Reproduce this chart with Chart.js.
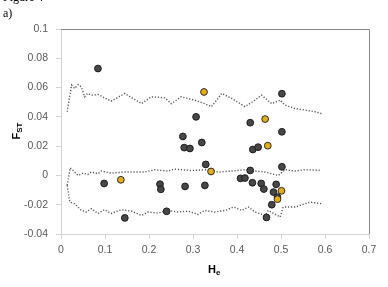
<!DOCTYPE html>
<html>
<head>
<meta charset="utf-8">
<script src="https://cdn.jsdelivr.net/npm/chart.js@4/dist/chart.umd.min.js"></script>
<style>
  html, body { margin: 0; padding: 0; background: #fff; }
  #wrap { position: relative; width: 388px; height: 287px; overflow: hidden; }
  canvas { position: absolute; left: 0; top: 0; }
  .lbl { position: absolute; white-space: nowrap; color: #000; }
  .fig { font-family: "Liberation Serif", serif; font-size: 12px; }
  .ax { font-family: "Liberation Sans", Arial, sans-serif; font-size: 11px; font-weight: bold; }
  .ax sub { font-size: 8px; vertical-align: -2px; }
</style>
</head>
<body>
<div id="wrap">
  <canvas id="c" width="388" height="287"></canvas>
  <div class="lbl fig" style="left:3px; top:-10px;">Figure 4</div>
  <div class="lbl fig" style="left:3px; top:6px;">a)</div>
  <div class="lbl ax" id="xt" style="left:208px; top:263px;">H<sub>e</sub></div>
  <div class="lbl ax" id="yt" style="left:9px; top:124px; transform: rotate(-90deg); transform-origin: center;">F<sub>ST</sub></div>
</div>
<script>
// Tick labels
const xTicks = [0, 0.1, 0.2, 0.3, 0.4, 0.5, 0.6, 0.7];
const yTicks = [-0.04, -0.02, 0, 0.02, 0.04, 0.06, 0.08, 0.1];

// Observed loci (dark)
const heDark  = [0.084, 0.307, 0.277, 0.280, 0.293, 0.320, 0.329, 0.098, 0.145, 0.225, 0.227, 0.240, 0.282, 0.327,
                 0.502, 0.430, 0.502, 0.436, 0.448, 0.430, 0.502, 0.408, 0.418, 0.435, 0.455, 0.461, 0.489, 0.483, 0.492, 0.479, 0.467];
const fstDark = [0.073, 0.040, 0.0266, 0.019, 0.0184, 0.0225, 0.0075, -0.0055, -0.029, -0.006, -0.0095, -0.0245, -0.0075, -0.0068,
                 0.0558, 0.036, 0.0298, 0.0177, 0.0193, 0.0034, 0.0059, -0.002, -0.0018, -0.005, -0.0055, -0.0093, -0.0061, -0.0114, -0.0148, -0.020, -0.0287];

// Observed loci (yellow)
const heYellow  = [0.325, 0.136, 0.341, 0.464, 0.470, 0.501, 0.492];
const fstYellow = [0.057, -0.003, 0.0027, 0.0385, 0.0203, -0.0105, -0.0162];

// Simulated envelope: upper
const upperHe  = [0.014, 0.024, 0.031, 0.039, 0.046, 0.054, 0.060, 0.069, 0.084, 0.114, 0.145, 0.183, 0.205, 0.236, 0.251, 0.273,
                  0.304, 0.327, 0.342, 0.357, 0.365, 0.388, 0.418, 0.433, 0.456, 0.479, 0.498, 0.509, 0.532, 0.555, 0.577, 0.595];
const upperFst = [0.0435, 0.0617, 0.0594, 0.062, 0.0605, 0.0537, 0.056, 0.0548, 0.0553, 0.0507, 0.056, 0.049, 0.0537, 0.053, 0.049, 0.0537,
                  0.0514, 0.049, 0.047, 0.0526, 0.056, 0.0526, 0.047, 0.0498, 0.0548, 0.049, 0.0514, 0.048, 0.0457, 0.0446, 0.0435, 0.042];

// Simulated envelope: median
const medianHe  = [0.014, 0.021, 0.031, 0.039, 0.050, 0.061, 0.069, 0.084, 0.092, 0.114, 0.145, 0.190, 0.213, 0.243, 0.258,
                   0.296, 0.334, 0.357, 0.388, 0.418, 0.441, 0.464, 0.494, 0.509, 0.532, 0.555, 0.592];
const medianFst = [-0.0068, 0.0052, 0.0023, 0.0, 0.0016, 0.0007, 0.0023, 0.0011, 0.003, 0.0016, 0.0023, 0.0023, 0.0039, 0.003, 0.0043,
                   0.0034, 0.0039, 0.0023, 0.003, 0.0039, 0.003, 0.0023, 0.0, 0.0039, 0.003, 0.0039, 0.0034];

// Simulated envelope: lower
const lowerHe  = [0.014, 0.020, 0.031, 0.046, 0.0575, 0.069, 0.084, 0.099, 0.114, 0.137, 0.160, 0.183, 0.198, 0.220, 0.243, 0.266, 0.289,
                  0.311, 0.327, 0.349, 0.373, 0.392, 0.411, 0.426, 0.441, 0.464, 0.471, 0.498, 0.505, 0.532, 0.555, 0.566, 0.592];
const lowerFst = [-0.0068, -0.0182, -0.0193, -0.0239, -0.025, -0.0227, -0.026, -0.0234, -0.026, -0.0234, -0.0244, -0.0273, -0.025, -0.0257,
                  -0.0239, -0.025, -0.0244, -0.0266, -0.0239, -0.025, -0.0239, -0.0216, -0.0239, -0.0216, -0.025, -0.0273, -0.0239,
                  -0.0284, -0.0216, -0.0216, -0.0193, -0.0182, -0.0193];

const zip = (xs, ys) => xs.map((x, i) => ({ x: x, y: ys[i] }));
const fmt = v => String(Number(Number(v).toFixed(3)));

const lineStyle = {
  type: 'line', showLine: true, pointRadius: 0, borderColor: '#555555', borderWidth: 1.4,
  borderDash: [1.2, 1.8], fill: false, tension: 0
};

const frame = {
  id: 'frame',
  beforeDatasetsDraw(chart) {
    const a = chart.chartArea, ctx = chart.ctx;
    ctx.save();
    ctx.strokeStyle = '#878787';
    ctx.lineWidth = 1;
    ctx.beginPath();
    ctx.moveTo(a.left, a.top + 0.5);
    ctx.lineTo(a.right + 0.5, a.top + 0.5);
    ctx.lineTo(a.right + 0.5, a.bottom);
    ctx.stroke();
    ctx.restore();
  }
};

new Chart(document.getElementById('c'), {
  type: 'scatter',
  data: {
    datasets: [
      Object.assign({ data: zip(upperHe, upperFst), order: 3 }, lineStyle),
      Object.assign({ data: zip(medianHe, medianFst), order: 3 }, lineStyle),
      Object.assign({ data: zip(lowerHe, lowerFst), order: 3 }, lineStyle),
      { data: zip(heDark, fstDark), backgroundColor: '#474747', borderColor: '#1e1e1e', borderWidth: 1, pointRadius: 3.4, order: 2 },
      { data: zip(heYellow, fstYellow), backgroundColor: '#e3ac1c', borderColor: '#2a2a2a', borderWidth: 1, pointRadius: 3.4, order: 1 }
    ]
  },
  options: {
    responsive: false,
    animation: false,
    devicePixelRatio: 1,
    layout: { padding: { left: 0, right: 19, top: 29, bottom: 0 } },
    plugins: { legend: { display: false }, tooltip: { enabled: false }, title: { display: false } },
    scales: {
      x: {
        type: 'linear', min: 0, max: 0.7,
        afterBuildTicks: s => { s.ticks = xTicks.map(v => ({ value: v })); },
        afterFit: s => { s.height = 53; },
        border: { display: true, color: '#d4d4d4', width: 1 },
        grid: { display: true, drawOnChartArea: false, drawTicks: true, tickLength: 5, color: '#d4d4d4' },
        ticks: { color: '#595959', font: { family: 'Liberation Sans', size: 10.5 }, padding: 5, callback: v => fmt(v), maxRotation: 0 }
      },
      y: {
        type: 'linear', min: -0.04, max: 0.1,
        afterBuildTicks: s => { s.ticks = yTicks.map(v => ({ value: v })); },
        afterFit: s => { s.width = 61; },
        border: { display: true, color: '#d4d4d4', width: 1 },
        grid: { display: true, drawOnChartArea: false, drawTicks: true, tickLength: 5, color: '#d4d4d4' },
        ticks: { color: '#595959', font: { family: 'Liberation Sans', size: 10.5 }, padding: 8, callback: v => fmt(v) }
      }
    }
  },
  plugins: [frame]
});
</script>
</body>
</html>
